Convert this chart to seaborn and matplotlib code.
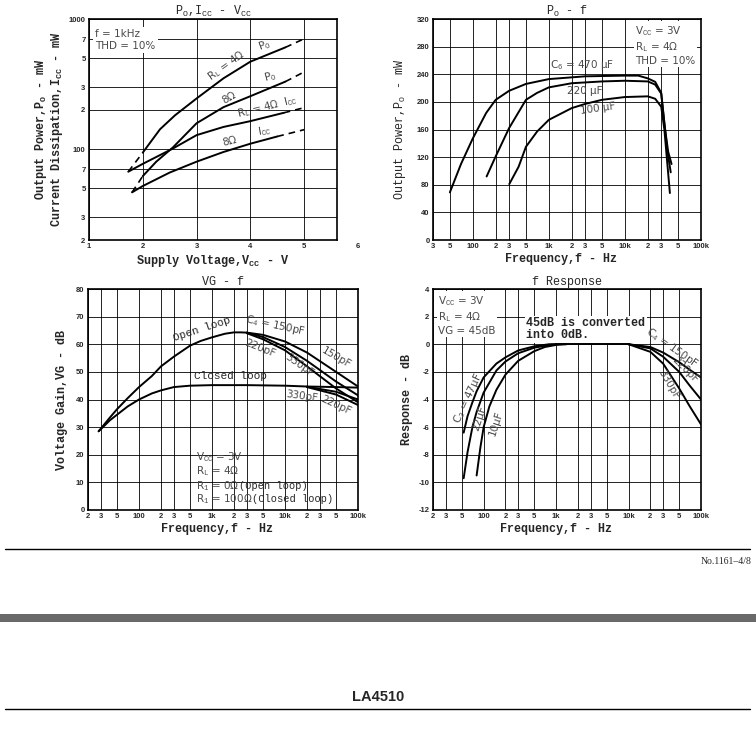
import matplotlib
matplotlib.use("Agg")
import matplotlib.pyplot as plt
import matplotlib.transforms as mtransforms
from matplotlib.lines import Line2D
from matplotlib.patches import Rectangle
import seaborn as sns

# ---------- data: Po, Icc - Vcc ----------
po4_v = [2.0, 2.32, 2.6, 3.0, 3.5, 4.0, 4.65]
po4_p = [94, 142, 182, 245, 350, 470, 605]
po4_lo_v, po4_lo_p = [1.73, 2.0], [67, 94]
po4_hi_v, po4_hi_p = [4.65, 5.0], [605, 705]

po8_v = [2.0, 2.25, 2.56, 3.0, 3.5, 4.0, 4.65]
po8_p = [62, 80, 103, 158, 210, 255, 330]
po8_lo_v, po8_lo_p = [1.80, 2.0], [46.5, 62]
po8_hi_v, po8_hi_p = [4.65, 5.0], [330, 392]

icc4_v = [1.73, 2.0, 2.56, 3.0, 3.5, 4.0, 4.62]
icc4_i = [67, 77, 101, 128, 148, 164, 190]
icc4_hi_v, icc4_hi_i = [4.62, 5.0], [190, 208]

icc8_v = [1.80, 2.0, 2.5, 3.0, 3.5, 4.0, 4.5]
icc8_i = [46.5, 52, 66, 80, 95, 110, 125]
icc8_hi_v, icc8_hi_i = [4.5, 5.0], [125, 141]

# ---------- data: Po - f ----------
c470_f = [50, 70, 100, 150, 200, 300, 500, 1000, 3000, 10000, 15000, 20000, 25000, 30000, 33000, 37000, 41000]
c470_p = [69, 110, 147, 184, 203, 216, 226, 233, 237, 238, 238, 234, 229, 213, 168, 128, 110]
c220_f = [152, 200, 300, 500, 700, 1000, 2000, 5000, 10000, 20000, 25000, 30000, 33000, 36000, 40000]
c220_p = [92, 121, 162, 203, 213, 221, 227, 229.6, 230.6, 229.6, 225, 212, 170, 130, 98]
c100_f = [302, 400, 500, 700, 1000, 2000, 3000, 5000, 10000, 20000, 25000, 30000, 33000, 36000, 39000]
c100_p = [81, 106, 135, 157, 174, 191, 197, 203, 207, 208, 204.5, 193, 160, 112, 68]

# ---------- data: VG - f ----------
open_f = [28, 40, 50, 70, 100, 150, 200, 300, 500, 700, 1000, 1500, 2000, 2500, 3000]
open_g = [28.5, 33.5, 36.5, 40.5, 44.5, 48.5, 52, 55.5, 59.5, 61.2, 62.5, 63.8, 64.3, 64.3, 64.2]
open_hf_f = [3000, 5000, 10000, 20000, 50000, 100000]
open150_g = [64.2, 63.4, 61.0, 57.0, 50.0, 44.7]
open330_g = [64.2, 62.6, 59.0, 54.0, 46.5, 41.5]
open220_g = [64.0, 61.8, 57.8, 52.0, 44.0, 39.0]

closed_f = [28, 40, 50, 70, 100, 150, 200, 300, 500, 1000, 3000, 10000, 20000]
closed_g = [28.5, 32.5, 34.5, 37.5, 40, 42.2, 43.3, 44.5, 45, 45.2, 45.2, 45, 44.7]
closed_hf_f = [20000, 50000, 100000]
closed150_g = [44.7, 44.5, 44.3]
closed220_g = [44.6, 42.8, 40.0]
closed330_g = [44.5, 41.8, 38.0]

# ---------- data: f Response ----------
r47_f = [53, 60, 70, 80, 100, 150, 200, 300, 500, 800, 1000]
r47_d = [-6.4, -5.2, -4.2, -3.4, -2.4, -1.4, -0.95, -0.45, -0.15, 0, 0]
r22_f = [53, 60, 70, 80, 100, 150, 200, 300, 500, 800, 1000]
r22_d = [-9.7, -7.8, -6.0, -4.9, -3.5, -1.9, -1.25, -0.65, -0.25, -0.05, 0]
r10_f = [80, 90, 100, 120, 150, 200, 300, 500, 700, 1000, 1400]
r10_d = [-9.5, -7.5, -6.0, -4.5, -3.3, -2.2, -1.2, -0.5, -0.2, -0.05, 0]
mid_f = [1000, 10000]
mid_d = [0, 0]
hf_f = [10000, 20000, 30000, 50000, 70000, 100000]
hf150_d = [0, -0.2, -0.6, -1.3, -1.85, -2.4]
hf220_d = [0, -0.3, -0.9, -2.0, -3.0, -4.0]
hf330_d = [0, -0.55, -1.4, -3.2, -4.5, -5.8]

log_ticks = [20, 30, 50, 100, 200, 300, 500, 1000, 2000, 3000, 5000,
             10000, 20000, 30000, 50000, 100000]
log_labels = ['2', '3', '5', '100', '2', '3', '5', '1k', '2', '3', '5',
              '10k', '2', '3', '5', '100k']

sns.set_style("white")
plt.rcParams['font.family'] = ['Liberation Mono', 'DejaVu Sans']
plt.rcParams['mathtext.fontset'] = 'custom'
plt.rcParams['mathtext.rm'] = 'Liberation Mono'
plt.rcParams['mathtext.bf'] = 'Liberation Mono:bold'
plt.rcParams['mathtext.it'] = 'Liberation Mono'

MONO = 'Liberation Mono'
NOTE = dict(family=['DejaVu Sans'], color='#4a4a4a', fontsize=7.5)
TICKF = dict(family='Liberation Sans', fontweight='bold', fontsize=5.5)
LW = 1.4

fig = plt.figure(figsize=(7.56, 7.29), dpi=100)
W, H = 756, 729


def axes_px(l, t, r, b):
    return fig.add_axes([l / W, 1 - b / H, (r - l) / W, (b - t) / H])


def curve(ax, x, y, dashed=False):
    sns.lineplot(x=x, y=y, ax=ax, color='black', linewidth=LW if not dashed else 1.2,
                 estimator=None, sort=False)
    if dashed:
        ax.lines[-1].set_dashes([4, 3])


def style(ax, title, xlabel, ylabel, ylab_x, xlab_x=0.5, ylab_bold=True):
    for s in ax.spines.values():
        s.set_color('black')
        s.set_linewidth(1.2)
    ax.grid(True, which='major', color='black', linewidth=0.6)
    ax.minorticks_off()
    ax.tick_params(length=0, pad=2.5)
    for lab in ax.get_xticklabels() + ax.get_yticklabels():
        lab.set_fontproperties(matplotlib.font_manager.FontProperties(
            family='Liberation Sans', weight='bold', size=5.5))
    ax.set_title(title, fontsize=8.5, family=MONO, pad=3)
    ax.set_xlabel(xlabel, fontsize=8.5, family=MONO, fontweight='bold')
    ax.set_ylabel(ylabel, fontsize=8.5, family=MONO,
                  fontweight='bold' if ylab_bold else 'normal', linespacing=1.05)
    ax.xaxis.set_label_coords(xlab_x, -0.06)
    ax.yaxis.set_label_coords(ylab_x, 0.5)


# ---------- panel 1 ----------
ax1 = axes_px(89, 19, 337, 240)
curve(ax1, po4_v, po4_p)
curve(ax1, po4_lo_v, po4_lo_p, True)
curve(ax1, po4_hi_v, po4_hi_p, True)
curve(ax1, po8_v, po8_p)
curve(ax1, po8_lo_v, po8_lo_p, True)
curve(ax1, po8_hi_v, po8_hi_p, True)
curve(ax1, icc4_v, icc4_i)
curve(ax1, icc4_hi_v, icc4_hi_i, True)
curve(ax1, icc8_v, icc8_i)
curve(ax1, icc8_hi_v, icc8_hi_i, True)
ax1.set_yscale('log')
ax1.set_xlim(1, 5.61)
ax1.set_ylim(20, 1000)
ax1.set_xticks([1, 2, 3, 4, 5])
ax1.set_xticklabels(['1', '2', '3', '4', '5'])
ax1.set_yticks([20, 30, 50, 70, 100, 200, 300, 500, 700, 1000])
ax1.set_yticklabels(['2', '3', '5', '7', '100', '2', '3', '5', '7', '1000'])
style(ax1, r'P$_\mathrm{O}$,I$_\mathrm{CC}$ - V$_\mathrm{CC}$',
      r'Supply Voltage,V$_\mathbf{CC}$ - V',
      'Output Power,P$_\\mathbf{O}$ - mW\nCurrent Dissipation,I$_\\mathbf{CC}$ - mW', -0.095)
tr = mtransforms.blended_transform_factory(ax1.transData, ax1.transAxes)
ax1.text(6, -0.012, '6', transform=tr, ha='center', va='top', clip_on=False, **TICKF)
ax1.text(1.12, 0.955, 'f = 1kHz\nTHD = 10%', transform=tr, va='top', ha='left',
         linespacing=1.25, bbox=dict(facecolor='white', edgecolor='none', pad=1.5), **NOTE)
ax1.text(3.55, 440, r'R$_\mathrm{L}$ = 4Ω', rotation=36, ha='center', va='center', **NOTE)
ax1.text(4.27, 625, r'P$_\mathrm{O}$', rotation=20, ha='center', va='center', **NOTE)
ax1.text(3.61, 250, '8Ω', rotation=30, ha='center', va='center', **NOTE)
ax1.text(4.37, 360, r'P$_\mathrm{O}$', rotation=15, ha='center', va='center', **NOTE)
ax1.text(4.32, 212, r'R$_\mathrm{L}$ = 4Ω  I$_\mathrm{CC}$', rotation=14, ha='center',
         va='center', **NOTE)
ax1.text(3.61, 114, '8Ω', rotation=14, ha='center', va='center', **NOTE)
ax1.text(4.27, 137, r'I$_\mathrm{CC}$', rotation=10, ha='center', va='center', **NOTE)

# ---------- panel 2 ----------
ax2 = axes_px(433, 19, 701, 240)
curve(ax2, c470_f, c470_p)
curve(ax2, c220_f, c220_p)
curve(ax2, c100_f, c100_p)
ax2.set_xscale('log')
ax2.set_xlim(30, 100000)
ax2.set_ylim(0, 320)
ax2.set_xticks(log_ticks[1:])
ax2.set_xticklabels(log_labels[1:])
ax2.set_yticks(range(0, 321, 40))
ax2.set_yticklabels([str(v) for v in range(0, 321, 40)])
style(ax2, r'P$_\mathrm{O}$ - f', 'Frequency,f - Hz', r'Output Power,P$_\mathrm{O}$ - mW',
      -0.093, 0.478, ylab_bold=False)
ax2.text(0.755, 0.975, 'V$_\\mathrm{CC}$ = 3V\nR$_\\mathrm{L}$ = 4Ω\nTHD = 10%',
         transform=ax2.transAxes, va='top', ha='left', linespacing=1.2,
         bbox=dict(facecolor='white', edgecolor='none', pad=1), **NOTE)
ax2.text(2700, 253, r'C$_\mathrm{6}$ = 470 μF', ha='center', va='center', **NOTE)
ax2.text(3000, 216, '220 μF', ha='center', va='center', **NOTE)
ax2.text(4400, 191, '100 μF', rotation=8, ha='center', va='center', **NOTE)

# ---------- panel 3 ----------
ax3 = axes_px(88, 289, 358, 510)
curve(ax3, open_f, open_g)
curve(ax3, open_hf_f, open150_g)
curve(ax3, open_hf_f, open330_g)
curve(ax3, open_hf_f, open220_g)
curve(ax3, closed_f, closed_g)
curve(ax3, closed_hf_f, closed150_g)
curve(ax3, closed_hf_f, closed220_g)
curve(ax3, closed_hf_f, closed330_g)
ax3.set_xscale('log')
ax3.set_xlim(20, 100000)
ax3.set_ylim(0, 80)
ax3.set_xticks(log_ticks)
ax3.set_xticklabels(log_labels)
ax3.set_yticks(range(0, 81, 10))
ax3.set_yticklabels([str(v) for v in range(0, 81, 10)])
style(ax3, 'VG - f', 'Frequency,f - Hz', 'Voltage Gain,VG - dB', -0.074, 0.478)
ax3.text(720, 65.5, 'Open loop', rotation=18, ha='center', va='center', fontsize=8, family=MONO)
ax3.text(7400, 66.8, r'C$_\mathrm{4}$ = 150pF', rotation=-12, ha='center', va='center', **NOTE)
ax3.text(4600, 58.6, '220pF', rotation=-22, ha='center', va='center', **NOTE)
ax3.text(15500, 52.6, '330pF', rotation=-35, ha='center', va='center', **NOTE)
ax3.text(50000, 55, '150pF', rotation=-30, ha='center', va='center', **NOTE)
ax3.text(1770, 48.6, 'Closed loop', ha='center', va='center', fontsize=8, family=MONO)
ax3.text(17000, 41.2, '330pF', rotation=-8, ha='center', va='center', **NOTE)
ax3.text(50000, 37.8, '220pF', rotation=-25, ha='center', va='center', **NOTE)
ax3.text(600, 19.3, 'V$_\\mathrm{CC}$ = 3V', ha='left', va='center', **NOTE)
ax3.text(600, 14.1, 'R$_\\mathrm{L}$ = 4Ω', ha='left', va='center', **NOTE)
r1a = ax3.text(600, 8.7, 'R$_\\mathrm{1}$ = 0Ω', ha='left', va='center', **NOTE)
ax3.annotate('(Open loop)', xy=(1.0, 0.5), xycoords=r1a, ha='left', va='center',
             fontsize=7.5, family=MONO)
r1b = ax3.text(600, 3.9, 'R$_\\mathrm{1}$ = 100Ω', ha='left', va='center', **NOTE)
ax3.annotate('(Closed loop)', xy=(1.0, 0.5), xycoords=r1b, ha='left', va='center',
             fontsize=7.5, family=MONO)

# ---------- panel 4 ----------
ax4 = axes_px(433, 289, 701, 510)
curve(ax4, r47_f, r47_d)
curve(ax4, r22_f, r22_d)
curve(ax4, r10_f, r10_d)
curve(ax4, mid_f, mid_d)
curve(ax4, hf_f, hf150_d)
curve(ax4, hf_f, hf220_d)
curve(ax4, hf_f, hf330_d)
ax4.set_xscale('log')
ax4.set_xlim(20, 100000)
ax4.set_ylim(-12, 4)
ax4.set_xticks(log_ticks)
ax4.set_xticklabels(log_labels)
ax4.set_yticks(range(-12, 5, 2))
ax4.set_yticklabels([str(v) for v in range(-12, 5, 2)])
style(ax4, 'f Response', 'Frequency,f - Hz', 'Response - dB', -0.075, 0.46)
ax4.text(0.02, 0.975, 'V$_\\mathrm{CC}$ = 3V\nR$_\\mathrm{L}$ = 4Ω\nVG = 45dB',
         transform=ax4.transAxes, va='top', ha='left', linespacing=1.2,
         bbox=dict(facecolor='white', edgecolor='none', pad=1), **NOTE)
ax4.text(390, 1.08, '45dB is converted\ninto 0dB.', ha='left', va='center',
         fontsize=8.5, family=MONO, fontweight='bold', linespacing=1.0,
         bbox=dict(facecolor='white', edgecolor='none', pad=1))
ax4.text(40000, -0.25, r'C$_\mathrm{4}$ = 150pF', rotation=-35, ha='center', va='center', **NOTE)
ax4.text(61000, -1.85, '220pF', rotation=-45, ha='center', va='center', **NOTE)
ax4.text(36000, -2.9, '330pF', rotation=-60, ha='center', va='center', **NOTE)
ax4.text(62, -3.9, r'C$_\mathrm{2}$ = 47μF', rotation=65, ha='center', va='center', **NOTE)
ax4.text(88, -5.35, '22μF', rotation=72, ha='center', va='center', **NOTE)
ax4.text(149, -5.7, '10μF', rotation=72, ha='center', va='center', **NOTE)

# ---------- page decoration ----------
fig.add_artist(Line2D([5 / W, 750 / W], [1 - 549 / H] * 2, color='black', lw=1.0))
fig.text(752 / W, 1 - 562 / H, 'No.1161–4/8', ha='right', va='center',
         family='Liberation Serif', fontsize=7)
fig.add_artist(Rectangle((0, 1 - 622 / H), 1, 8 / H, color='#696969', lw=0))
fig.text(0.5, 1 - 697 / H, 'LA4510', ha='center', va='center',
         family='Liberation Sans', fontweight='bold', fontsize=10.5)
fig.add_artist(Line2D([5 / W, 750 / W], [1 - 709 / H] * 2, color='black', lw=1.0))

fig.savefig('out.png', dpi=100, facecolor='white')
